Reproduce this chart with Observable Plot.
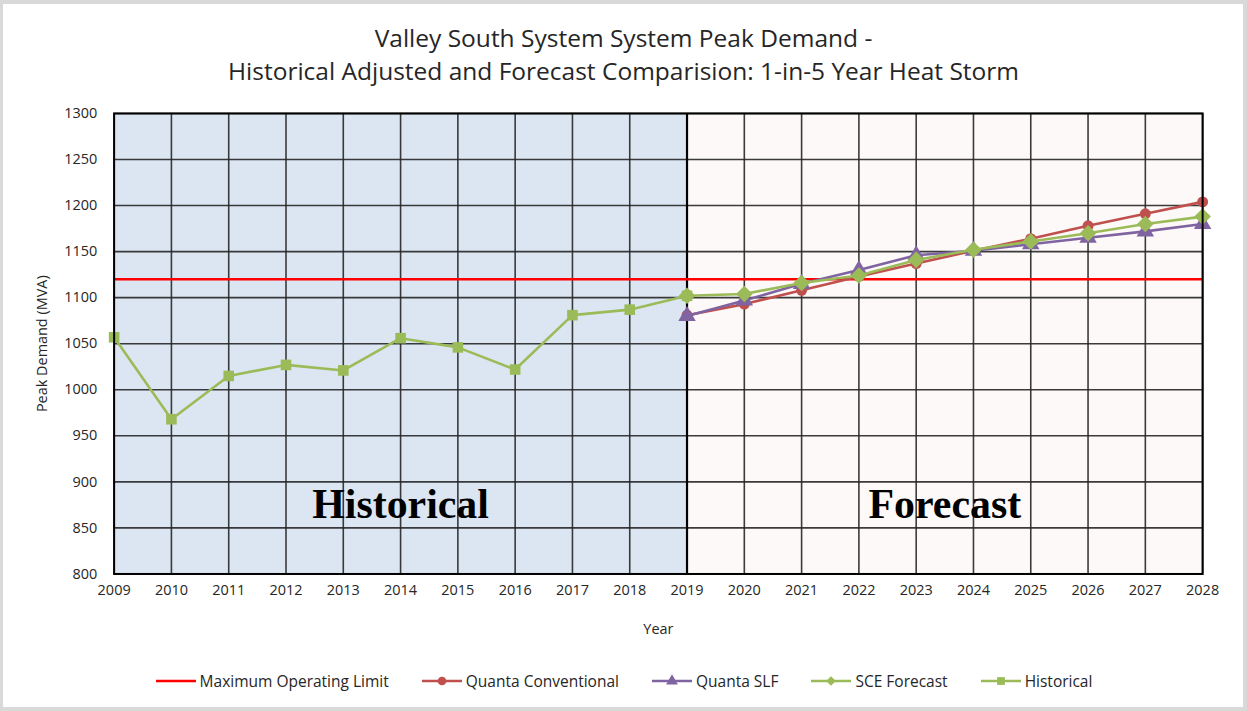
<!DOCTYPE html>
<html>
<head>
<meta charset="utf-8">
<script src="https://cdn.jsdelivr.net/npm/d3@7"></script>
<script src="https://cdn.jsdelivr.net/npm/@observablehq/plot@0.6"></script>
<style>
  html, body { margin: 0; padding: 0; background: #d9d9d9; }
  #wrap { position: absolute; left: 3px; top: 4px; width: 1240px; height: 703px; background: #fff; overflow: hidden; }
  #title { position: absolute; left: -3px; top: -4px; width: 1247px; height: 100px; text-align: center;
           font-family: "Open Sans", "Noto Sans", sans-serif; font-size: 24.5px; color: #262626; }
  #title div { position: absolute; width: 100%; }
  #chart { position: absolute; left: -3px; top: 96px; }
  #legend { position: absolute; left: -3px; top: 649px; width: 1247px; height: 56px; display: flex; justify-content: center; align-items: center;
            font-family: "Open Sans", "Noto Sans", sans-serif; font-size: 15.5px; color: #262626; gap: 32px; }
  .item { display: flex; align-items: center; }
  .item svg { margin-right: 3px; }
</style>
</head>
<body>
<div id="wrap">
  <div id="title"><div style="top:21px">Valley South System System Peak Demand -</div><div style="top:54px">Historical Adjusted and Forecast Comparision: 1-in-5 Year Heat Storm</div></div>
  <div id="chart"></div>
  <div id="legend"></div>
</div>
<script>
// ---- data ----
const years = [2009, 2010, 2011, 2012, 2013, 2014, 2015, 2016, 2017, 2018, 2019, 2020, 2021, 2022, 2023, 2024, 2025, 2026, 2027, 2028];
const yTicks = [800, 850, 900, 950, 1000, 1050, 1100, 1150, 1200, 1250, 1300];
const historicalYears = [2009, 2010, 2011, 2012, 2013, 2014, 2015, 2016, 2017, 2018, 2019];
const historicalValues = [1057, 968, 1015, 1027, 1021, 1056, 1046, 1022, 1081, 1087, 1102];
const forecastYears = [2019, 2020, 2021, 2022, 2023, 2024, 2025, 2026, 2027, 2028];
const quantaConventional = [1081, 1093, 1108, 1123, 1137, 1151, 1164, 1178, 1191, 1204];
const quantaSLF = [1080, 1097, 1115, 1130, 1146, 1151, 1158, 1165, 1172, 1180];
const sceForecast = [1102, 1104, 1116, 1124, 1141, 1152, 1161, 1170, 1180, 1188];
const maxOperatingLimit = 1120;
const regionNames = ["Historical", "Forecast"];
const regionLabelY = 875;

// ---- styles ----
const colors = { limit: "#ff0000", conv: "#c0504d", slf: "#8064a2", sce: "#9bbb59", hist: "#9bbb59" };
const regionFill = ["#dce6f2", "#fcf9f8"];

const yDomain = [yTicks[0], yTicks[yTicks.length - 1]];
const regions = [
  { name: regionNames[0], x1: historicalYears[0], x2: historicalYears[historicalYears.length - 1], fill: regionFill[0] },
  { name: regionNames[1], x1: forecastYears[0], x2: forecastYears[forecastYears.length - 1], fill: regionFill[1] }
].map(r => ({ ...r, y1: yDomain[0], y2: yDomain[1], mid: (r.x1 + r.x2) / 2, ly: regionLabelY }));

const toRows = (xs, vs) => xs.map((x, i) => ({ x, y: vs[i] }));
const convRows = toRows(forecastYears, quantaConventional);
const slfRows = toRows(forecastYears, quantaSLF);
const sceRows = toRows(forecastYears, sceForecast);
const histRows = toRows(historicalYears, historicalValues);

const lw = 2.6;
const chart = Plot.plot({
  width: 1247,
  height: 555,
  marginLeft: 114,
  marginRight: 41,
  marginTop: 13,
  marginBottom: 80,
  style: { fontFamily: "'Open Sans', 'Noto Sans', sans-serif", fontSize: "14.5px", color: "#262626", background: "transparent", overflow: "visible" },
  x: { domain: [years[0], years[years.length - 1]] },
  y: { domain: yDomain },
  marks: [
    Plot.rect(regions, { x1: "x1", x2: "x2", y1: "y1", y2: "y2", fill: "fill" }),
    Plot.gridX(years, { stroke: "#262626", strokeOpacity: 0.9, strokeWidth: 1.6 }),
    Plot.gridY(yTicks, { stroke: "#262626", strokeOpacity: 0.9, strokeWidth: 1.6 }),
    Plot.text(regions, { x: "mid", y: "ly", text: "name", fontFamily: "'Liberation Serif', 'Times New Roman', serif", fontWeight: "bold", fontSize: 42, fill: "#000" }),
    Plot.ruleX([forecastYears[0]], { stroke: "#000", strokeWidth: 2.2 }),
    Plot.ruleY([maxOperatingLimit], { stroke: colors.limit, strokeWidth: 2.6 }),
    Plot.line(convRows, { x: "x", y: "y", stroke: colors.conv, strokeWidth: lw }),
    Plot.dot(convRows, { x: "x", y: "y", fill: colors.conv, r: 5.5, symbol: "circle" }),
    Plot.line(slfRows, { x: "x", y: "y", stroke: colors.slf, strokeWidth: lw }),
    Plot.dot(slfRows, { x: "x", y: "y", fill: colors.slf, r: 6.5, symbol: "triangle" }),
    Plot.line(sceRows, { x: "x", y: "y", stroke: colors.sce, strokeWidth: lw }),
    Plot.dot(sceRows, { x: "x", y: "y", fill: colors.sce, r: 7.5, symbol: "diamond2" }),
    Plot.line(histRows, { x: "x", y: "y", stroke: colors.hist, strokeWidth: lw }),
    Plot.dot(histRows, { x: "x", y: "y", fill: colors.hist, r: 6, symbol: "square" }),
    Plot.frame({ stroke: "#000", strokeWidth: 2 }),
    Plot.axisX(years, { tickSize: 0, tickPadding: 11, tickFormat: d => String(d), label: "Year", labelAnchor: "center", labelArrow: "none", labelOffset: 60 }),
    Plot.axisY(yTicks, { tickSize: 0, tickPadding: 17, tickFormat: d => String(d), label: "Peak Demand (MVA)", labelAnchor: "center", labelArrow: "none", labelOffset: 78 })
  ]
});
document.getElementById("chart").appendChild(chart);

// ---- legend ----
const legendItems = [
  { label: "Maximum Operating Limit", color: colors.limit, symbol: null },
  { label: "Quanta Conventional", color: colors.conv, symbol: d3.symbolCircle },
  { label: "Quanta SLF", color: colors.slf, symbol: d3.symbolTriangle },
  { label: "SCE Forecast", color: colors.sce, symbol: d3.symbolDiamond2 },
  { label: "Historical", color: colors.hist, symbol: d3.symbolSquare }
];
const legend = d3.select("#legend");
legendItems.forEach(it => {
  const div = legend.append("div").attr("class", "item");
  const s = div.append("svg").attr("width", 42).attr("height", 14);
  s.append("line").attr("x1", 1).attr("x2", 41).attr("y1", 7).attr("y2", 7).attr("stroke", it.color).attr("stroke-width", 2.6);
  if (it.symbol) s.append("path").attr("d", d3.symbol(it.symbol, 60)()).attr("transform", "translate(21,7)").attr("fill", it.color);
  div.append("span").text(it.label);
});
</script>
</body>
</html>
